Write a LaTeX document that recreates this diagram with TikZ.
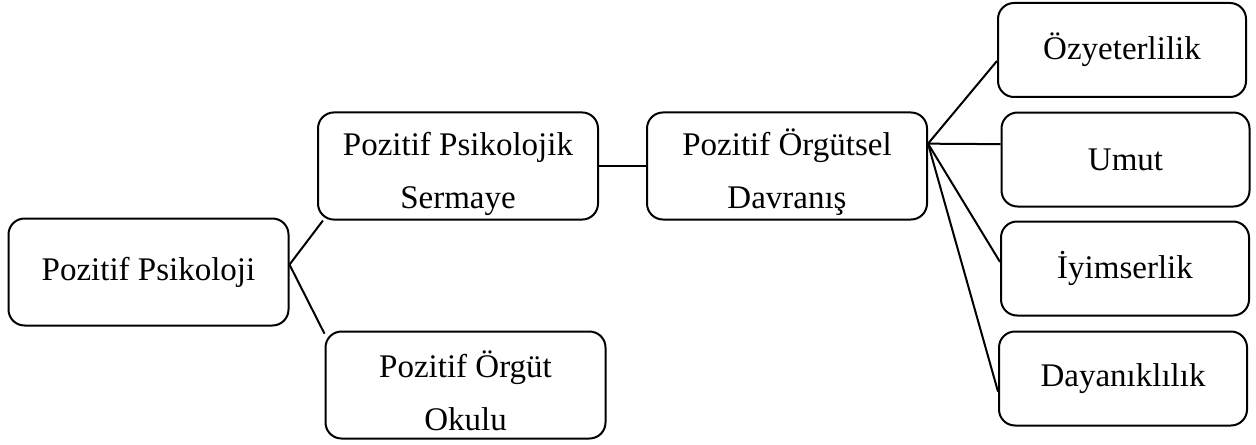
\documentclass[tikz,border=0pt]{standalone}
\usepackage{fontspec}
\setmainfont{Liberation Serif}
\usetikzlibrary{positioning}

\begin{document}
\begin{tikzpicture}[x=0.5pt, y=-0.5pt, line width=1pt, every node/.style={draw, rounded corners=8pt, align=center, font=\fontsize{16.5}{26.5}\selectfont}, inner sep=2pt, bigbox/.style={minimum width=140pt, minimum height=53.5pt}, twoline/.style={bigbox, text height=46pt}, smallbox/.style={minimum width=124pt, minimum height=47pt}]
    \useasboundingbox (0,0) rectangle (1256,444);
    \node[bigbox] (psikoloji) at (148.5,272) {Pozitif Psikoloji};
    \node[twoline] (sermaye) at (458,166) {Pozitif Psikolojik\\Sermaye};
    \node[twoline] (davranis) at (787,166) {Pozitif Örgütsel\\Davranış};
    \node[twoline] (okul) at (465.5,385) {Pozitif Örgüt\\Okulu};
    \node[smallbox] (ozyeterlilik) at (1122,50) {Özyeterlilik};
    \node[smallbox] (umut) at (1125.5,159.5) {Umut};
    \node[smallbox] (iyimserlik) at (1125,268.5) {İyimserlik};
    \node[smallbox] (dayaniklilik) at (1123,378.5) {Dayanıklılık};
    \draw (psikoloji.3) -- (sermaye.202);
    \draw (psikoloji.3) -- (okul.160);
    \draw (sermaye) -- (davranis);
    \draw (davranis.9.5) -- (ozyeterlilik.185.5);
    \draw (davranis.9.5) -- (umut.173.3);
    \draw (davranis.9.5) -- (iyimserlik.177.5);
    \draw (davranis.9.5) -- (dayaniklilik.186.6);
\end{tikzpicture}
\end{document}
